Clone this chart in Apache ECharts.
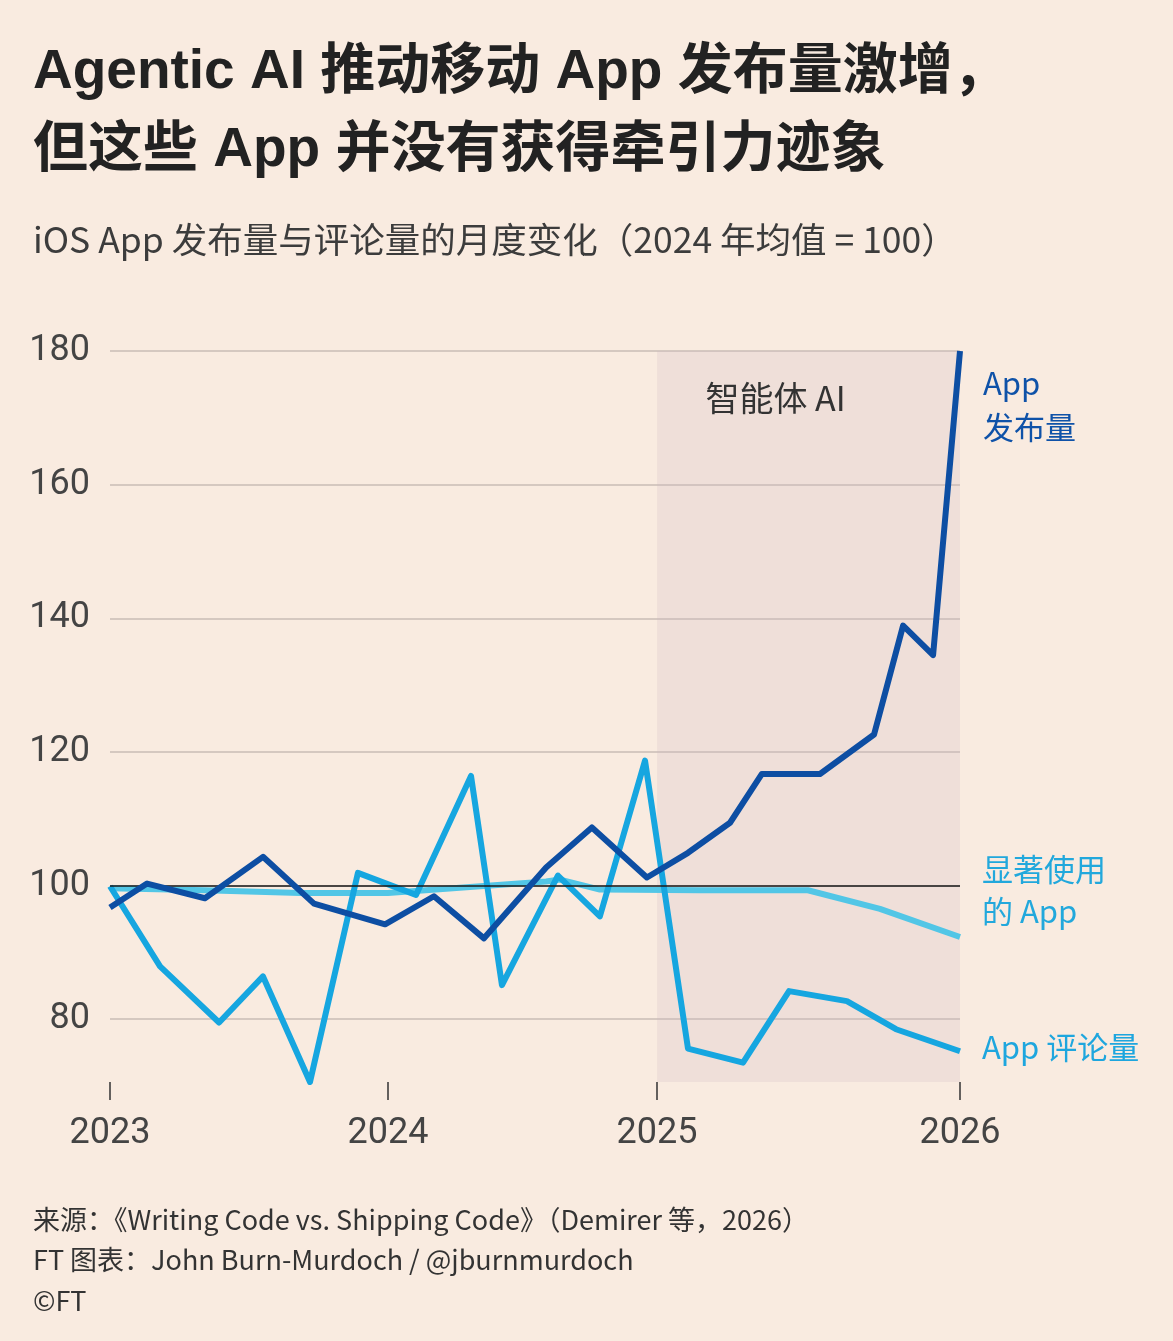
<!DOCTYPE html>
<html>
<head>
<meta charset="utf-8">
<title>Agentic AI App</title>
<script src="https://cdn.jsdelivr.net/npm/echarts@6/dist/echarts.min.js"></script>
<style>
    html, body { margin: 0; padding: 0; background: #f9ebe0; }
    #chart { width: 1173px; height: 1341px; }
</style>
</head>
<body>
<div id="chart"></div>
<script>
// x 为距 2023 年初的月数（按图上位置读取）
var releaseX = [0, 1.57, 4.02, 6.48, 8.64, 11.65, 13.72, 15.84, 18.47, 20.41, 22.74, 24.48, 26.26, 27.61, 30.07, 32.36, 33.59, 34.86, 36];
var releaseY = [96.7, 100.3, 98.1, 104.3, 97.3, 94.2, 98.4, 92.1, 102.7, 108.7, 101.2, 104.9, 109.4, 116.7, 116.7, 122.6, 138.9, 134.5, 180];

var reviewX = [0, 2.12, 4.62, 6.48, 8.47, 10.50, 12.96, 15.29, 16.60, 18.97, 20.75, 22.66, 24.48, 26.81, 28.76, 31.21, 33.29, 36];
var reviewY = [99.9, 87.9, 79.5, 86.4, 70.6, 101.9, 98.6, 116.4, 85.1, 101.5, 95.4, 118.7, 75.6, 73.5, 84.2, 82.7, 78.5, 75.2];

var activeX = [0, 4.02, 8.05, 11.77, 15.25, 18.47, 19.06, 20.75, 24.99, 29.56, 32.61, 36];
var activeY = [99.6, 99.3, 98.9, 98.9, 99.8, 100.6, 100.9, 99.4, 99.3, 99.3, 96.5, 92.3];

var yearPos = [0, 11.77, 23.17, 36];
var yearLabels = ['2023', '2024', '2025', '2026'];
var yTicks = [80, 100, 120, 140, 160, 180];

var agentStart = 23.17;

function pairs(xs, ys) {
    var out = [];
    for (var i = 0; i < xs.length; i++) {
        out.push([xs[i], ys[i]]);
    }
    return out;
}

var chart = echarts.init(document.getElementById('chart'));

var option = {
    backgroundColor: '#f9ebe0',
    animation: false,
    textStyle: {
        fontFamily: '"Noto Sans CJK SC", "Noto Sans", sans-serif'
    },
    title: [{
        text: 'Agentic AI 推动移动 App 发布量激增，\n但这些 App 并没有获得牵引力迹象',
        left: 33,
        top: 34,
        padding: 0,
        textStyle: {
            fontSize: 55,
            fontWeight: 'bold',
            fontFamily: '"Liberation Sans", "Noto Sans CJK SC", sans-serif',
            color: '#222',
            lineHeight: 78
        }
    }, {
        text: 'iOS App 发布量与评论量的月度变化（2024 年均值 = 100）',
        left: 33,
        top: 220,
        padding: 0,
        textStyle: {
            fontSize: 35.5,
            fontWeight: 'normal',
            color: '#3c3c3c',
            lineHeight: 40
        }
    }, {
        text: '来源：《Writing Code vs. Shipping Code》（Demirer 等，2026）\nFT 图表：John Burn-Murdoch / @jburnmurdoch\n©FT',
        left: 33,
        top: 1199,
        padding: 0,
        textStyle: {
            fontSize: 27,
            fontWeight: 'normal',
            color: '#333',
            lineHeight: 40.5
        }
    }],
    grid: {
        left: 110,
        right: 213,
        top: 351,
        bottom: 259
    },
    xAxis: {
        type: 'value',
        min: 0,
        max: 36,
        axisLine: { show: false },
        splitLine: { show: false },
        axisTick: {
            show: true,
            customValues: yearPos,
            length: 18,
            lineStyle: { color: '#333', width: 1.5 }
        },
        axisLabel: {
            customValues: yearPos,
            margin: 34,
            fontSize: 36,
            fontFamily: 'Roboto',
            color: '#444',
            formatter: function(v) {
                for (var i = 0; i < yearPos.length; i++) {
                    if (Math.abs(v - yearPos[i]) < 0.01) return yearLabels[i];
                }
                return '';
            }
        }
    },
    yAxis: {
        type: 'value',
        min: 70.6,
        max: 180,
        axisLine: { show: false },
        axisTick: { show: false, customValues: yTicks },
        splitLine: {
            show: true,
            lineStyle: { color: '#c9bdb6', width: 1.5 }
        },
        axisLabel: {
            customValues: yTicks,
            margin: 20,
            fontSize: 36,
            fontFamily: 'Roboto',
            color: '#444'
        }
    },
    series: [{
        name: '显著使用的 App',
        type: 'line',
        data: pairs(activeX, activeY),
        showSymbol: false,
        z: 3,
        lineStyle: { color: '#52c6e6', width: 6, join: 'round' },
        markLine: {
            silent: true,
            symbol: 'none',
            label: { show: false },
            lineStyle: { color: '#1a1a1a', width: 1.5, type: 'solid' },
            data: [{ yAxis: 100 }]
        },
        markArea: {
            silent: true,
            itemStyle: { color: 'rgba(204,180,189,0.22)' },
            label: {
                show: true,
                position: 'insideTop',
                offset: [-33, 25],
                fontSize: 34,
                color: '#333'
            },
            data: [[{ xAxis: agentStart, name: '智能体 AI' }, { xAxis: 36 }]]
        },
        endLabel: {
            show: true,
            formatter: '显著使用\n的 App',
            offset: [14, -47],
            fontSize: 31,
            lineHeight: 42,
            color: '#22a8dc'
        }
    }, {
        name: 'App 评论量',
        type: 'line',
        data: pairs(reviewX, reviewY),
        showSymbol: false,
        z: 4,
        lineStyle: { color: '#16a6e0', width: 6, join: 'round' },
        endLabel: {
            show: true,
            formatter: 'App 评论量',
            offset: [14, -4],
            fontSize: 31,
            color: '#1ea6de'
        }
    }, {
        name: 'App 发布量',
        type: 'line',
        data: pairs(releaseX, releaseY),
        showSymbol: false,
        z: 5,
        lineStyle: { color: '#0d4ea3', width: 6, join: 'round' },
        endLabel: {
            show: true,
            formatter: 'App\n发布量',
            offset: [15, 54],
            fontSize: 31,
            lineHeight: 44,
            color: '#0f52a8'
        }
    }]
};

chart.setOption(option);
</script>
</body>
</html>
